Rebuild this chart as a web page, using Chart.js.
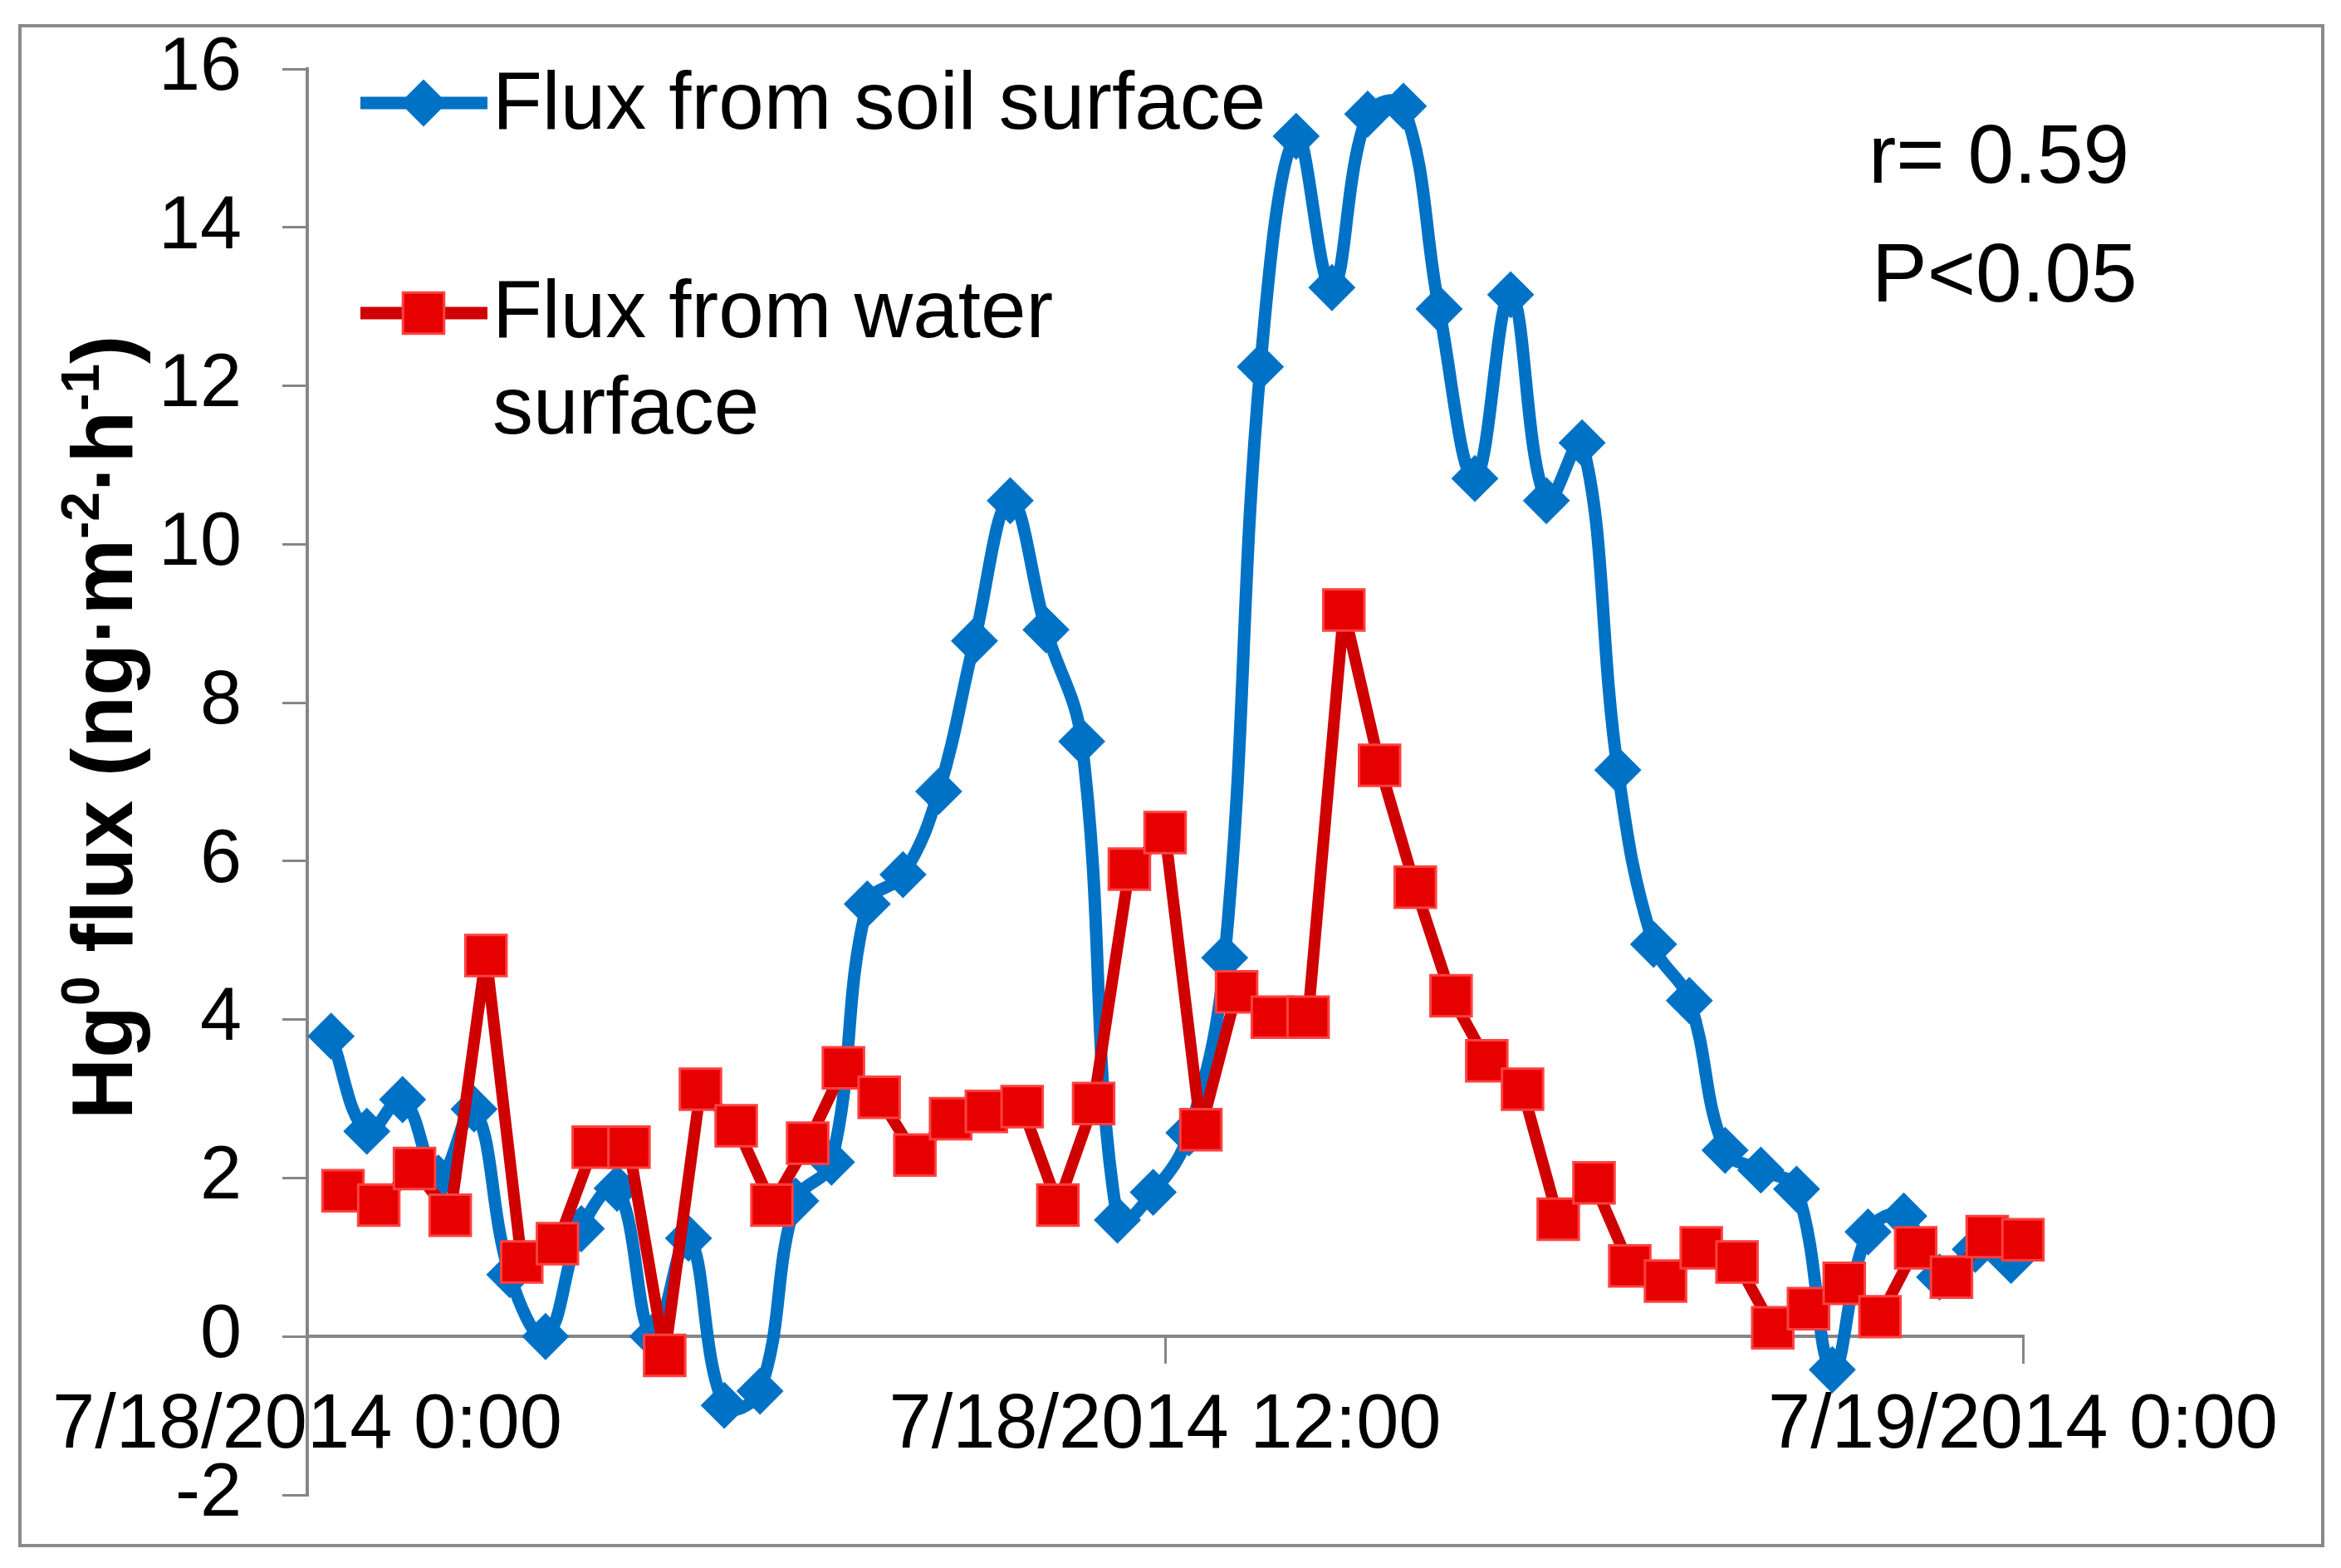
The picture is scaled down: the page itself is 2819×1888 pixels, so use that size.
<!DOCTYPE html>
<html lang="en">
<head>
    <meta charset="UTF-8">
    <title>Hg0 flux from soil and water surface</title>
    <script src="https://cdn.jsdelivr.net/npm/chart.js"></script>
    <style>
        html, body {
            margin: 0;
            padding: 0;
            background: #ffffff;
        }
        #wrap {
            width: 2819px;
            height: 1888px;
            position: relative;
        }
    </style>
</head>
<body>
    <div id="wrap"><canvas id="fluxChart"></canvas></div>

    <script>
        // measurement times (7/18/2014, half-hourly; soil chamber ~10 min earlier)
        const soilTimes = [
            '0:20', '0:50', '1:20', '1:50', '2:20', '2:50', '3:20', '3:50',
            '4:20', '4:50', '5:20', '5:50', '6:20', '6:50', '7:20', '7:50',
            '8:20', '8:50', '9:20', '9:50', '10:20', '10:50', '11:20', '11:50',
            '12:20', '12:50', '13:20', '13:50', '14:20', '14:50', '15:20', '15:50',
            '16:20', '16:50', '17:20', '17:50', '18:20', '18:50', '19:20', '19:50',
            '20:20', '20:50', '21:20', '21:50', '22:20', '22:50', '23:20', '23:50'
        ];
        const waterTimes = [
            '0:30', '1:00', '1:30', '2:00', '2:30', '3:00', '3:30', '4:00',
            '4:30', '5:00', '5:30', '6:00', '6:30', '7:00', '7:30', '8:00',
            '8:30', '9:00', '9:30', '10:00', '10:30', '11:00', '11:30', '12:00',
            '12:30', '13:00', '13:30', '14:00', '14:30', '15:00', '15:30', '16:00',
            '16:30', '17:00', '17:30', '18:00', '18:30', '19:00', '19:30', '20:00',
            '20:30', '21:00', '21:30', '22:00', '22:30', '23:00', '23:30', '24:00'
        ];

        // Hg0 flux, ng m-2 h-1
        const soilFlux = [
            3.79, 2.59, 2.99, 2.00, 2.87, 0.78, 0.00, 1.36, 1.87, 0.00,
            1.24, -0.87, -0.69, 1.71, 2.20, 5.46, 5.83, 6.88, 8.78, 10.55,
            8.92, 7.51, 1.47, 1.82, 2.57, 4.78, 12.24, 15.15, 13.24, 15.43,
            15.53, 12.97, 10.83, 13.15, 10.55, 11.28, 7.15, 4.95, 4.24, 2.35,
            2.10, 1.86, -0.42, 1.32, 1.52, 0.75, 1.10, 0.96
        ];
        const waterFlux = [
            1.84, 1.66, 2.12, 1.53, 4.81, 0.94, 1.17, 2.39, 2.39, -0.24,
            3.12, 2.66, 1.66, 2.44, 3.39, 3.02, 2.29, 2.75, 2.84, 2.90,
            1.66, 2.94, 5.90, 6.36, 2.61, 4.35, 4.03, 4.03, 9.17, 7.21,
            5.67, 4.30, 3.48, 3.12, 1.48, 1.94, 0.89, 0.70, 1.12, 0.94,
            0.11, 0.35, 0.67, 0.25, 1.12, 0.75, 1.26, 1.22
        ];

        const seriesNames = ['Flux from soil surface', 'Flux from water surface'];
        const xTickLabels = ['7/18/2014 0:00', '7/18/2014 12:00', '7/19/2014 0:00'];
        const yTicks = [-2, 0, 2, 4, 6, 8, 10, 12, 14, 16];
        const statsText = ['r= 0.59', 'P<0.05'];

        const BLUE = '#0072C6';
        const RED_LINE = '#D00000';
        const RED_FILL = '#E60000';
        const RED_EDGE = '#FF4040';
        const AXIS_GRAY = '#868686';
        const FONT = "'Liberation Sans', Arial, sans-serif";

        // "h:mm" -> hours since midnight
        function toHours(t) {
            const parts = t.split(':');
            return Number(parts[0]) + Number(parts[1]) / 60;
        }

        const soilPoints = soilTimes.map((t, i) => ({ x: toHours(t), y: soilFlux[i] }));
        const waterPoints = waterTimes.map((t, i) => ({ x: toHours(t), y: waterFlux[i] }));

        // frame, legend, r/P text and the y title with superscripts
        const decorPlugin = {
            id: 'decor',
            beforeDraw(chart) {
                const ctx = chart.ctx;
                ctx.save();
                ctx.strokeStyle = '#8a8a8a';
                ctx.lineWidth = 4;
                ctx.strokeRect(24, 31, 2773, 1830);
                ctx.restore();
            },
            afterDraw(chart) {
                const ctx = chart.ctx;
                ctx.save();

                // legend
                ctx.lineCap = 'butt';
                ctx.strokeStyle = BLUE;
                ctx.lineWidth = 15;
                ctx.beginPath();
                ctx.moveTo(434, 124);
                ctx.lineTo(587, 124);
                ctx.stroke();
                ctx.fillStyle = BLUE;
                ctx.strokeStyle = BLUE;
                ctx.lineWidth = 2;
                Chart.helpers.drawPoint(ctx, { pointStyle: 'rectRot', radius: 27, borderWidth: 2 }, 510, 124);

                ctx.strokeStyle = RED_LINE;
                ctx.lineWidth = 15;
                ctx.beginPath();
                ctx.moveTo(434, 377);
                ctx.lineTo(587, 377);
                ctx.stroke();
                ctx.fillStyle = RED_FILL;
                ctx.strokeStyle = RED_EDGE;
                ctx.lineWidth = 3;
                Chart.helpers.drawPoint(ctx, { pointStyle: 'rect', radius: 35, borderWidth: 3 }, 510, 377);

                ctx.fillStyle = '#000000';
                ctx.textAlign = 'left';
                ctx.textBaseline = 'alphabetic';
                ctx.font = '98px ' + FONT;
                ctx.fillText(seriesNames[0], 593, 155);
                ctx.fillText('Flux from water', 593, 406);
                ctx.fillText('surface', 593, 522);

                // correlation
                ctx.font = '100px ' + FONT;
                ctx.fillText(statsText[0], 2250, 220);
                ctx.fillText(statsText[1], 2254, 363);

                // y axis title, rotated, with superscripts
                const parts = [
                    ['Hg', false], ['0', true], [' flux (ng\u00b7m', false], ['-2', true],
                    ['\u00b7h', false], ['-1', true], [')', false]
                ];
                const big = 'bold 103px ' + FONT;
                const small = 'bold 64px ' + FONT;
                let total = 0;
                parts.forEach(p => {
                    ctx.font = p[1] ? small : big;
                    total += ctx.measureText(p[0]).width;
                });
                ctx.translate(159, 876);
                ctx.rotate(-Math.PI / 2);
                let cx = -total / 2;
                parts.forEach(p => {
                    ctx.font = p[1] ? small : big;
                    ctx.fillText(p[0], cx, p[1] ? -40 : 0);
                    cx += ctx.measureText(p[0]).width;
                });

                ctx.restore();
            }
        };

        const ctx = document.getElementById('fluxChart').getContext('2d');

        const fluxChart = new Chart(ctx, {
            type: 'line',
            data: {
                datasets: [
                    {
                        label: seriesNames[0],
                        data: soilPoints,
                        order: 2,
                        borderColor: BLUE,
                        borderWidth: 15,
                        borderJoinStyle: 'round',
                        tension: 0.4,
                        pointStyle: 'rectRot',
                        pointRadius: 27,
                        pointBackgroundColor: BLUE,
                        pointBorderColor: BLUE,
                        pointBorderWidth: 2,
                        clip: false
                    },
                    {
                        label: seriesNames[1],
                        data: waterPoints,
                        order: 1,
                        borderColor: RED_LINE,
                        borderWidth: 14,
                        borderJoinStyle: 'round',
                        tension: 0,
                        pointStyle: 'rect',
                        pointRadius: 35,
                        pointBackgroundColor: RED_FILL,
                        pointBorderColor: RED_EDGE,
                        pointBorderWidth: 3,
                        clip: false
                    }
                ]
            },
            options: {
                responsive: true,
                maintainAspectRatio: false,
                devicePixelRatio: 1,
                animation: false,
                layout: {
                    padding: { left: 0, top: 83, right: 383, bottom: 88 }
                },
                plugins: {
                    legend: { display: false },
                    tooltip: { enabled: false },
                    title: { display: false }
                },
                scales: {
                    x: {
                        type: 'linear',
                        min: 0,
                        max: 24,
                        position: { y: 0 },
                        border: { display: true, color: AXIS_GRAY, width: 4 },
                        grid: {
                            display: true,
                            drawOnChartArea: false,
                            drawTicks: true,
                            tickLength: 31,
                            color: AXIS_GRAY,
                            lineWidth: 3
                        },
                        ticks: {
                            stepSize: 12,
                            autoSkip: false,
                            maxRotation: 0,
                            minRotation: 0,
                            padding: 22,
                            color: '#000000',
                            font: { family: FONT, size: 92 },
                            callback: (v) => xTickLabels[v / 12]
                        }
                    },
                    y: {
                        min: -2,
                        max: 16,
                        border: { display: true, color: AXIS_GRAY, width: 4 },
                        grid: {
                            display: true,
                            drawOnChartArea: false,
                            drawTicks: true,
                            tickLength: 30,
                            color: AXIS_GRAY,
                            lineWidth: 3
                        },
                        afterBuildTicks: (scale) => {
                            scale.ticks = yTicks.map(v => ({ value: v }));
                        },
                        afterFit: (scale) => {
                            scale.width = 370;
                            // keep the plot box from the layout padding alone
                            scale.paddingTop = 0;
                            scale.paddingBottom = 0;
                        },
                        ticks: {
                            padding: 49,
                            color: '#000000',
                            font: { family: FONT, size: 90 }
                        }
                    }
                }
            },
            plugins: [decorPlugin]
        });
    </script>
</body>
</html>
